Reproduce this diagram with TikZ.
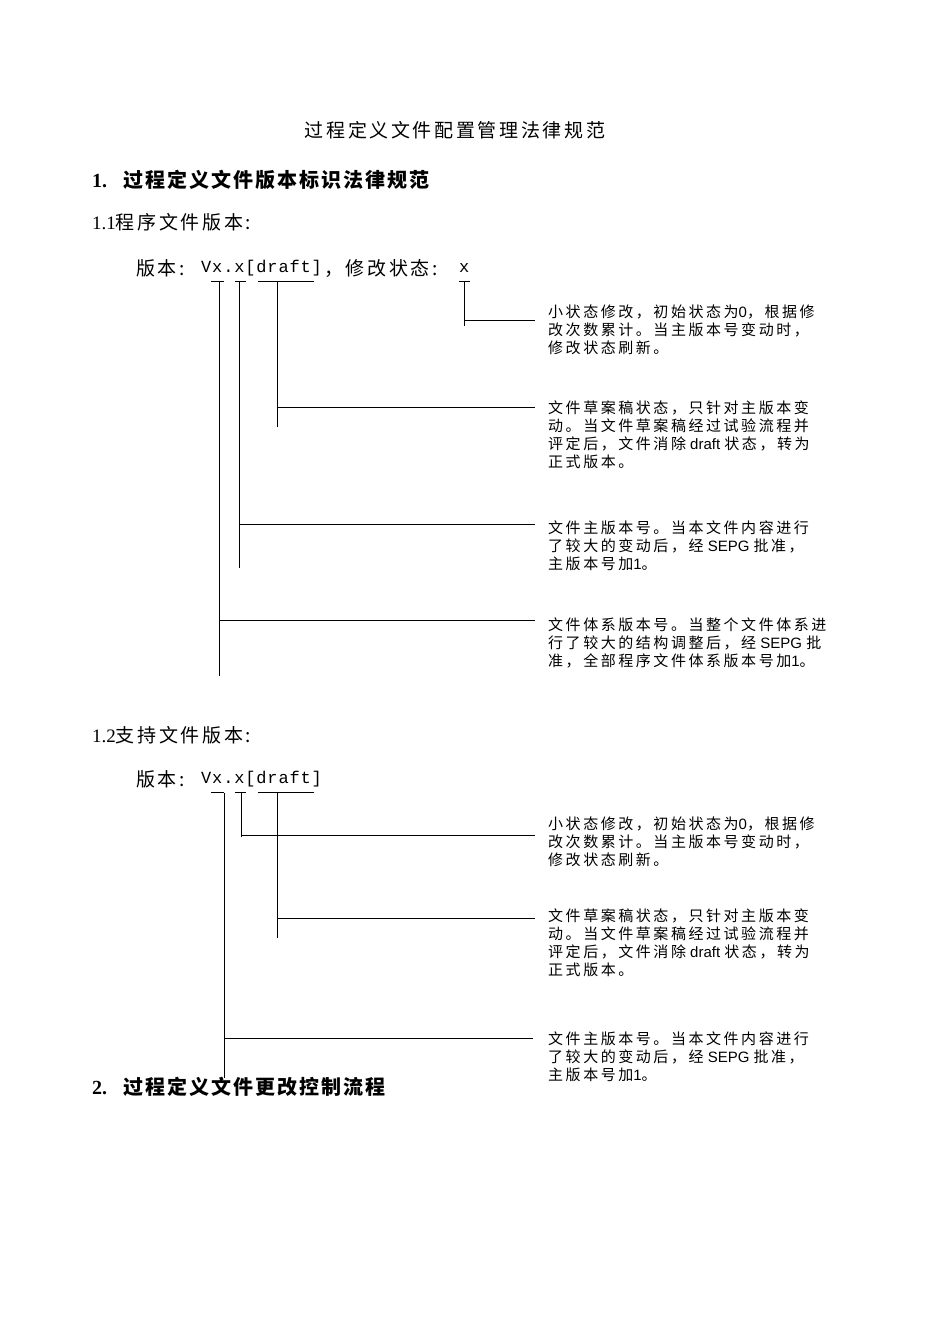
\documentclass[tikz,border=0pt]{standalone}
\usepackage{fontspec}
\setmainfont{Liberation Serif}
\newfontfamily\cjk{Noto Sans CJK SC}
\newfontfamily\cjkb[LetterSpace=10]{Noto Sans CJK SC}
\newfontfamily\cjksp[LetterSpace=14]{Noto Sans CJK SC}
\newfontfamily\cjksm[LetterSpace=17]{Noto Sans CJK SC}
\newfontfamily\lsans{Liberation Sans}
\newfontfamily\lmono[LetterSpace=5]{Liberation Mono}
\begin{document}
\begin{tikzpicture}[x=1pt,y=-1pt,
  big/.style={anchor=west,inner sep=0pt,font=\fontsize{19}{22}\cjksp},
  head/.style={anchor=west,inner sep=0pt,font=\fontsize{20}{22}\cjkb\bfseries},
  note/.style={anchor=north west,inner sep=0pt,align=left,font=\fontsize{15}{18}\cjksm},
  ln/.style={line width=0.8pt}]
\useasboundingbox[fill=white] (0,0) rectangle (950,1344);
\node[big,anchor=center] (title) at (455,130) {过程定义文件配置管理法律规范};
\node[head] (h1) at (92,180) {\fontsize{20}{22}\selectfont\rmfamily 1.\hspace{16pt}\cjkb 过程定义文件版本标识法律规范};
\node[big] (s11) at (92,222) {\rmfamily 1.1\cjksp 程序文件版本:};
% version line 1
\node[big] (v1) at (136,268) {版本:};
\node[big,font=\fontsize{17}{20}\lmono] (a1) at (201,268) {Vx.x[draft]};
\node[big] (b1) at (324,268) {，修改状态:};
\node[big,font=\fontsize{17}{20}\lmono] (c1) at (459,268) {x};
\draw[ln] (211,281)--(224,281) (235,281)--(246,281) (258,281)--(314,281) (459,281)--(470,281);
\coordinate (p1) at (219,282); \coordinate (p2) at (239,282); \coordinate (p3) at (277,282); \coordinate (p4) at (464,282);
\draw[ln] (p1)--(219,676) (p2)--(239,568) (p3)--(277,427) (p4)--(464,326);
\node[note] (n1) at (548,305) {小状态修改，初始状态为{\lsans 0}，根据修\\改次数累计。当主版本号变动时，\\修改状态刷新。};
\node[note] (n2) at (548,401) {文件草案稿状态，只针对主版本变\\动。当文件草案稿经过试验流程并\\评定后，文件消除{\lsans\ draft }状态，转为\\正式版本。};
\node[note] (n3) at (548,521) {文件主版本号。当本文件内容进行\\了较大的变动后，经{\lsans\ SEPG }批准，\\主版本号加{\lsans 1}。};
\node[note] (n4) at (548,618) {文件体系版本号。当整个文件体系进\\行了较大的结构调整后，经{\lsans\ SEPG }批\\准，全部程序文件体系版本号加{\lsans 1}。};
\draw[ln] (464,320)--(535,320) (277,407)--(535,407) (239,524)--(535,524) (219,620)--(535,620);
% section 1.2
\node[big] (s12) at (92,735) {\rmfamily 1.2\cjksp 支持文件版本:};
\node[big] (v2) at (136,779) {版本:};
\node[big,font=\fontsize{17}{20}\lmono] (a2) at (201,779) {Vx.x[draft]};
\draw[ln] (211,792)--(224,792) (235,792)--(246,792) (258,792)--(314,792);
\coordinate (q1) at (224,793); \coordinate (q2) at (241,793); \coordinate (q3) at (277,793);
\draw[ln] (q1)--(224,1078) (q2)--(241,837) (q3)--(277,938);
\draw[ln] (241,835)--(535,835) (277,918)--(535,918) (224,1038)--(533,1038);
\node[note] (m1) at (548,817) {小状态修改，初始状态为{\lsans 0}，根据修\\改次数累计。当主版本号变动时，\\修改状态刷新。};
\node[note] (m2) at (548,909) {文件草案稿状态，只针对主版本变\\动。当文件草案稿经过试验流程并\\评定后，文件消除{\lsans\ draft }状态，转为\\正式版本。};
\node[note] (m3) at (548,1032) {文件主版本号。当本文件内容进行\\了较大的变动后，经{\lsans\ SEPG }批准，\\主版本号加{\lsans 1}。};
\node[head] (h2) at (92,1087) {\fontsize{20}{22}\selectfont\rmfamily 2.\hspace{16pt}\cjkb 过程定义文件更改控制流程};
\end{tikzpicture}
\end{document}
